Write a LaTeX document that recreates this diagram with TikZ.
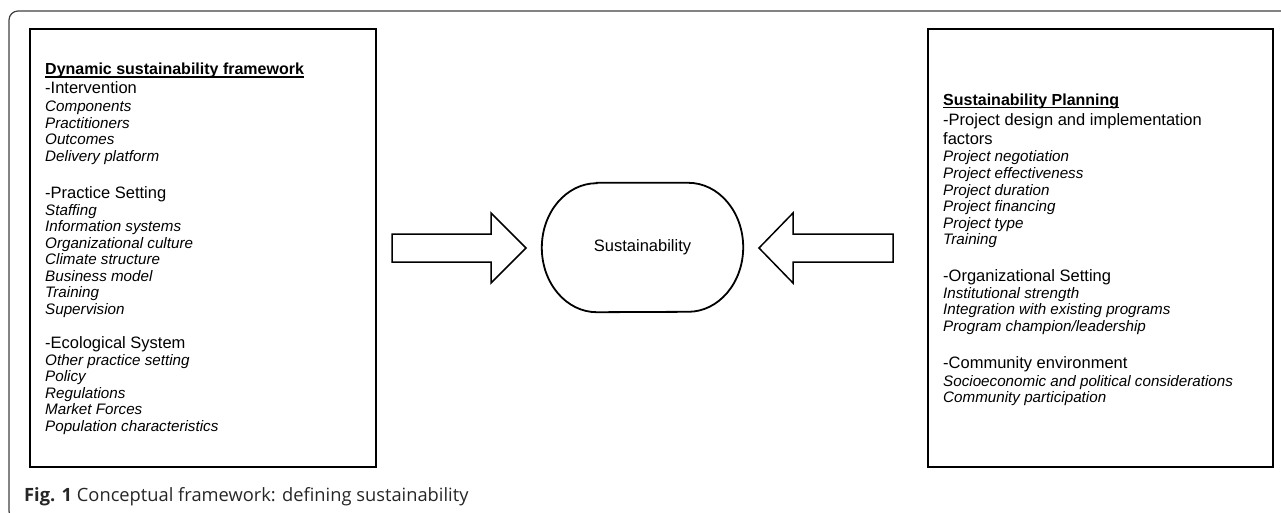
\documentclass[tikz,border=0pt]{standalone}
\usepackage{fontspec}
\setmainfont{Liberation Sans}
\newfontfamily\capfont{Open Sans}
\begin{document}
\begin{tikzpicture}[x=1pt,y=-1pt,
  box/.style={draw=black, line width=2pt, inner sep=0pt, outer sep=0pt, anchor=north west},
  ttl/.style={anchor=base west, inner sep=0pt, font=\fontsize{16}{18}\selectfont\bfseries},
  sec/.style={anchor=base west, inner sep=0pt, font=\fontsize{16.5}{18}\selectfont},
  itm/.style={anchor=base west, inner sep=0pt, font=\fontsize{15.2}{16.5}\selectfont\itshape},
  uline/.style={line width=1.1pt},
  blockarrow/.style={draw=black, line width=1.5pt, fill=white, line join=miter},
  stadium/.style={line width=1.8pt},
]
\useasboundingbox (0,0) rectangle (1281,513);
\begin{scope}
\clip (0,0) rectangle (1281,513);
\draw[line width=1.2pt, draw=black!75, rounded corners=9pt] (1300,11) -- (9,11) -- (9,520) -- (1300,520);
\end{scope}

% boxes
\node[box, minimum width=346pt, minimum height=438pt] (dsf) at (30,29) {};
\node[box, minimum width=345pt, minimum height=438pt] (sp) at (928,29) {};

% left text
\node[ttl] (l0) at (45,75) {Dynamic sustainability framework};
\draw[uline] ([yshift=-2pt]l0.base west) -- ([yshift=-2pt]l0.base east);
\node[sec] (l1) at (45,93.5) {-Intervention};
\node[itm] (l2) at (45,112) {Components};
\node[itm] (l3) at (45,128.5) {Practitioners};
\node[itm] (l4) at (45,145) {Outcomes};
\node[itm] (l5) at (45,161.5) {Delivery platform};
\node[sec] (l6) at (45,198.5) {-Practice Setting};
\node[itm] (l7) at (45,215) {Staffing};
\node[itm] (l8) at (45,231.5) {Information systems};
\node[itm] (l9) at (45,248) {Organizational culture};
\node[itm] (l10) at (45,264.5) {Climate structure};
\node[itm] (l11) at (45,281) {Business model};
\node[itm] (l12) at (45,297.5) {Training};
\node[itm] (l13) at (45,314) {Supervision};
\node[sec] (l14) at (45,348.5) {-Ecological System};
\node[itm] (l15) at (45,365) {Other practice setting};
\node[itm] (l16) at (45,381.5) {Policy};
\node[itm] (l17) at (45,398) {Regulations};
\node[itm] (l18) at (45,414.5) {Market Forces};
\node[itm] (l19) at (45,431) {Population characteristics};

% right text
\node[ttl] (r0) at (943,105.5) {Sustainability Planning};
\draw[uline] ([yshift=-2pt]r0.base west) -- ([yshift=-2pt]r0.base east);
\node[sec] (r1) at (943,125.5) {-Project design and implementation};
\node[sec] (r2) at (943,144.5) {factors};
\node[itm] (r3) at (943,162) {Project negotiation};
\node[itm] (r4) at (943,178.5) {Project effectiveness};
\node[itm] (r5) at (943,195) {Project duration};
\node[itm] (r6) at (943,211.5) {Project financing};
\node[itm] (r7) at (943,228) {Project type};
\node[itm] (r8) at (943,244.5) {Training};
\node[sec] (r9) at (943,281.5) {-Organizational Setting};
\node[itm] (r10) at (943,298) {Institutional strength};
\node[itm] (r11) at (943,314.5) {Integration with existing programs};
\node[itm] (r12) at (943,331) {Program champion/leadership};
\node[sec] (r13) at (943,368.5) {-Community environment};
\node[itm] (r14) at (943,386) {Socioeconomic and political considerations};
\node[itm] (r15) at (943,402.5) {Community participation};

% centre
\node[inner sep=0pt, minimum width=201pt, minimum height=129pt, font=\fontsize{16.5}{18}\selectfont] (sus) at (642.5,247.5) {Sustainability};
\draw[stadium] ([xshift=55pt]sus.north west) -- ([xshift=-55pt]sus.north east)
  arc[start angle=90, end angle=-90, x radius=55pt, y radius=64.5pt]
  -- ([xshift=55pt]sus.south west)
  arc[start angle=270, end angle=90, x radius=55pt, y radius=64.5pt] -- cycle;

% block arrows
\coordinate (la) at ([xshift=16pt]dsf.east);
\coordinate (ra) at ([xshift=-35pt]sp.west);
\draw[blockarrow] (la) ++(0,-14) -- ++(99,0) -- ++(0,-21) -- ++(35,35) -- ++(-35,35) -- ++(0,-21) -- ++(-99,0) -- cycle;
\draw[blockarrow] (ra) ++(0,-14) -- ++(-100,0) -- ++(0,-21) -- ++(-34,35) -- ++(34,35) -- ++(0,-21) -- ++(100,0) -- cycle;

% caption
\node[anchor=base west, inner sep=0pt, text=black!85, font=\capfont\fontsize{18.3}{20}\selectfont] (cap) at (24,501) {\textbf{Fig. 1} Conceptual framework: defining sustainability};
\end{tikzpicture}
\end{document}
